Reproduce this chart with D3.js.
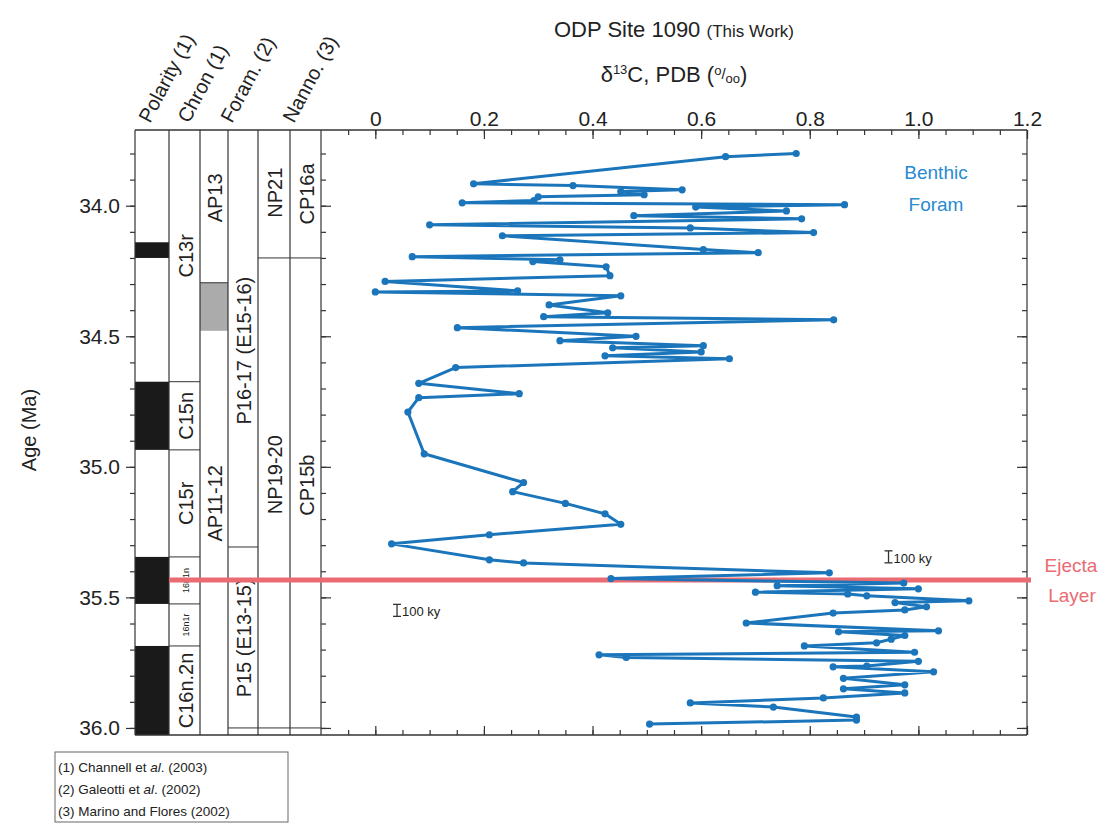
<!DOCTYPE html>
<html>
<head>
<meta charset="utf-8">
<script src="https://d3js.org/d3.v7.min.js"></script>
<style>
  body { margin: 0; background: #fff; }
  svg { display: block; font-family: "Liberation Sans", Arial, Helvetica, sans-serif; }
  text { fill: #222; }
</style>
</head>
<body>
<div id="graph"></div>
<script>
// d13C record, ODP Site 1090
var ageMa = [33.800, 33.812, 33.916, 33.923, 33.939, 33.946, 33.958, 33.966, 33.980, 33.989,
  33.996, 34.005, 34.020, 34.038, 34.050, 34.073, 34.085, 34.103, 34.115, 34.168,
  34.180, 34.195, 34.207, 34.214, 34.234, 34.268, 34.290, 34.326, 34.330, 34.345,
  34.380, 34.410, 34.425, 34.437, 34.467, 34.500, 34.517, 34.536, 34.544, 34.560,
  34.575, 34.586, 34.620, 34.680, 34.720, 34.735, 34.790, 34.950, 35.060, 35.095,
  35.140, 35.180, 35.220, 35.260, 35.295, 35.356, 35.368, 35.406, 35.428, 35.445,
  35.455, 35.467, 35.480, 35.487, 35.494, 35.513, 35.520, 35.536, 35.548, 35.560,
  35.598, 35.628, 35.632, 35.646, 35.660, 35.674, 35.686, 35.710, 35.720, 35.730,
  35.745, 35.763, 35.766, 35.785, 35.810, 35.835, 35.850, 35.866, 35.885, 35.904,
  35.920, 35.958, 35.970, 35.985];
var d13C = [0.775, 0.645, 0.181, 0.364, 0.565, 0.452, 0.495, 0.300, 0.292, 0.160,
  0.864, 0.590, 0.757, 0.476, 0.785, 0.100, 0.580, 0.807, 0.234, 0.604,
  0.705, 0.068, 0.340, 0.290, 0.425, 0.432, 0.018, 0.262, 0.000, 0.452,
  0.320, 0.428, 0.310, 0.844, 0.151, 0.480, 0.340, 0.604, 0.437, 0.600,
  0.423, 0.652, 0.148, 0.080, 0.265, 0.080, 0.060, 0.090, 0.273, 0.253,
  0.350, 0.423, 0.452, 0.210, 0.030, 0.210, 0.273, 0.836, 0.434, 0.973,
  0.740, 1.000, 0.700, 0.870, 0.905, 1.093, 0.957, 1.015, 0.975, 0.843,
  0.683, 1.037, 0.853, 0.975, 0.950, 0.923, 0.790, 0.993, 0.412, 0.462,
  1.000, 0.905, 0.843, 1.028, 0.862, 0.975, 0.862, 0.975, 0.825, 0.580,
  0.733, 0.886, 0.886, 0.505];

var xTicks = [0, 0.2, 0.4, 0.6, 0.8, 1.0, 1.2];
var xTickLabels = ["0", "0.2", "0.4", "0.6", "0.8", "1.0", "1.2"];
var yTicks = [34.0, 34.5, 35.0, 35.5, 36.0];
var yTickLabels = ["34.0", "34.5", "35.0", "35.5", "36.0"];

// stratigraphic columns (ages in Ma)
var polarityBlack = [[34.14, 34.20], [34.674, 34.935], [35.345, 35.525], [35.686, 36.03]];
var chronNames = ["C13r", "C15n", "C15r", "16n1n", "16n1r", "C16n.2n"];
var chronTops = [33.71, 34.674, 34.935, 35.345, 35.525, 35.686];
var chronBases = [34.674, 34.935, 35.345, 35.525, 35.686, 36.03];
var apNames = ["AP13", "AP11-12"];
var apLabelAge = [33.97, 35.14];
var apGrey = [34.295, 34.479];
var pNames = ["P16-17 (E15-16)", "P15 (E13-15)"];
var pLabelAge = [34.555, 35.655];
var pLines = [35.307, 36.0];
var npNames = ["NP21", "NP19-20"];
var npLabelAge = [33.95, 35.03];
var cpNames = ["CP16a", "CP15b"];
var cpLabelAge = [33.955, 35.07];
var nannoLines = [34.2, 36.0];
var ejectaAge = 35.433;

var W = 1110, H = 825;
var svg = d3.select("#graph").append("svg").attr("width", W).attr("height", H);

var x = d3.scaleLinear().domain([-0.1, 1.2]).range([321, 1027]);
var y = d3.scaleLinear().domain([33.71, 36.027]).range([130, 735]);

var colX = [135, 169, 200, 228, 258, 290, 321];   // column edges
var plotTop = y.range()[0], plotBot = y.range()[1];
var ink = "#333";

// ---- columns ----
var cols = svg.append("g");
polarityBlack.forEach(function(b) {
  cols.append("rect").attr("x", colX[0]).attr("width", colX[1] - colX[0])
    .attr("y", y(b[0])).attr("height", Math.min(y(b[1]), plotBot) - y(b[0]))
    .attr("fill", "#1a1a1a");
});
cols.append("rect").attr("x", colX[2]).attr("width", colX[3] - colX[2])
  .attr("y", y(apGrey[0])).attr("height", y(apGrey[1]) - y(apGrey[0]))
  .attr("fill", "#ababab");
cols.append("line").attr("x1", colX[2]).attr("x2", colX[3])
  .attr("y1", y(apGrey[0])).attr("y2", y(apGrey[0])).attr("stroke", ink).attr("stroke-width", 1);

// column dividers
colX.forEach(function(cx) {
  cols.append("line").attr("x1", cx).attr("x2", cx).attr("y1", plotTop).attr("y2", plotBot)
    .attr("stroke", ink).attr("stroke-width", 1.2);
});
// chron boundaries
chronTops.slice(1).forEach(function(a) {
  cols.append("line").attr("x1", colX[1]).attr("x2", colX[2]).attr("y1", y(a)).attr("y2", y(a))
    .attr("stroke", ink).attr("stroke-width", 1);
});
pLines.forEach(function(a) {
  cols.append("line").attr("x1", colX[3]).attr("x2", colX[4]).attr("y1", y(a)).attr("y2", y(a))
    .attr("stroke", ink).attr("stroke-width", 1);
});
nannoLines.forEach(function(a) {
  cols.append("line").attr("x1", colX[4]).attr("x2", colX[6]).attr("y1", y(a)).attr("y2", y(a))
    .attr("stroke", ink).attr("stroke-width", 1);
});

function vlabel(cx, age, txt, size) {
  cols.append("text")
    .attr("transform", "translate(" + cx + "," + y(age) + ") rotate(-90)")
    .attr("text-anchor", "middle").attr("dy", "0.36em")
    .style("font-size", size + "px").text(txt);
}
chronNames.forEach(function(n, i) {
  var small = n.indexOf("16n1") === 0;
  var mid = (Math.max(chronTops[i], 33.71) + Math.min(chronBases[i], 36.027)) / 2;
  vlabel((colX[1] + colX[2]) / 2 + 1, mid, n, small ? 9 : 20);
});
apNames.forEach(function(n, i) { vlabel((colX[2] + colX[3]) / 2 + 1, apLabelAge[i], n, 20); });
pNames.forEach(function(n, i) { vlabel((colX[3] + colX[4]) / 2 + 1, pLabelAge[i], n, 20); });
npNames.forEach(function(n, i) { vlabel((colX[4] + colX[5]) / 2 + 1, npLabelAge[i], n, 20); });
cpNames.forEach(function(n, i) { vlabel((colX[5] + colX[6]) / 2 + 1, cpLabelAge[i], n, 20); });

// column headers
var heads = [["Polarity (1)", 150], ["Chron (1)", 189], ["Foram. (2)", 232], ["Nanno. (3)", 294]];
heads.forEach(function(h) {
  svg.append("text").attr("transform", "translate(" + h[1] + ",124) rotate(-62)")
    .style("font-size", "20px").text(h[0]);
});

// ---- axes ----
function tickAxis(axis, tf) {
  var g = svg.append("g").attr("transform", tf).call(axis);
  g.select(".domain").remove();
  g.selectAll("line").attr("stroke", ink).attr("stroke-width", 1.2);
  return g;
}
var yMinor = d3.range(33.8, 36.01, 0.1);
var xMinor = d3.range(-0.05, 1.201, 0.05);

// left age axis
tickAxis(d3.axisLeft(y).tickValues(yMinor).tickSize(5).tickFormat(""), "translate(" + colX[0] + ",0)");
var yl = tickAxis(d3.axisLeft(y).tickValues(yTicks).tickSize(9).tickPadding(6)
  .tickFormat(function(d, i) { return yTickLabels[i]; }), "translate(" + colX[0] + ",0)");
yl.selectAll("text").style("font-size", "21px").attr("fill", "#222")
  .style("font-family", "Liberation Sans, Arial, sans-serif");

// inner ticks of the plot frame
tickAxis(d3.axisRight(y).tickValues(yMinor).tickSize(5).tickFormat(""), "translate(" + x.range()[0] + ",0)");
tickAxis(d3.axisRight(y).tickValues(yTicks).tickSize(10).tickFormat(""), "translate(" + x.range()[0] + ",0)");
tickAxis(d3.axisLeft(y).tickValues(yMinor).tickSize(5).tickFormat(""), "translate(" + x.range()[1] + ",0)");
tickAxis(d3.axisLeft(y).tickValues(yTicks).tickSize(10).tickFormat(""), "translate(" + x.range()[1] + ",0)");
tickAxis(d3.axisBottom(x).tickValues(xMinor).tickSize(5).tickFormat(""), "translate(0," + plotTop + ")");
tickAxis(d3.axisBottom(x).tickValues(xTicks).tickSize(9).tickFormat(""), "translate(0," + plotTop + ")");
tickAxis(d3.axisTop(x).tickValues(xMinor).tickSize(5).tickFormat(""), "translate(0," + plotBot + ")");
tickAxis(d3.axisTop(x).tickValues(xTicks).tickSize(9).tickFormat(""), "translate(0," + plotBot + ")");

// top tick labels
var xl = tickAxis(d3.axisTop(x).tickValues(xTicks).tickSize(0).tickPadding(4)
  .tickFormat(function(d, i) { return xTickLabels[i]; }), "translate(0," + plotTop + ")");
xl.selectAll("text").style("font-size", "21px").attr("fill", "#222")
  .style("font-family", "Liberation Sans, Arial, sans-serif");

// frame
svg.append("line").attr("x1", colX[0]).attr("x2", x.range()[1]).attr("y1", plotTop).attr("y2", plotTop)
  .attr("stroke", ink).attr("stroke-width", 1.5);
svg.append("line").attr("x1", colX[0]).attr("x2", x.range()[1]).attr("y1", plotBot).attr("y2", plotBot)
  .attr("stroke", ink).attr("stroke-width", 1.5);
svg.append("line").attr("x1", x.range()[1]).attr("x2", x.range()[1]).attr("y1", plotTop).attr("y2", plotBot)
  .attr("stroke", ink).attr("stroke-width", 1.2);

// ---- titles ----
var t1 = svg.append("text").attr("x", 674).attr("y", 37).attr("text-anchor", "middle");
t1.append("tspan").style("font-size", "22px").text("ODP Site 1090 ");
t1.append("tspan").style("font-size", "17px").text("(This Work)");
var t2 = svg.append("text").attr("x", 674).attr("y", 82).attr("text-anchor", "middle").style("font-size", "22px");
t2.append("tspan").text("\u03b4");
t2.append("tspan").attr("dy", -8).style("font-size", "13px").text("13");
t2.append("tspan").attr("dy", 8).text("C, PDB (");
t2.append("tspan").attr("dy", -7).style("font-size", "13px").text("o");
t2.append("tspan").attr("dy", 4).style("font-size", "15px").text("/");
t2.append("tspan").attr("dy", 4).style("font-size", "13px").text("oo");
t2.append("tspan").attr("dy", -1).text(")");

svg.append("text").attr("transform", "translate(36,430) rotate(-90)")
  .attr("text-anchor", "middle").style("font-size", "20px").text("Age (Ma)");

// ---- ejecta layer ----
var red = "#ea6b71";
svg.append("line").attr("x1", colX[1]).attr("x2", 1031).attr("y1", y(ejectaAge)).attr("y2", y(ejectaAge))
  .attr("stroke", red).attr("stroke-width", 5);
svg.append("text").attr("x", 1071).attr("y", y(ejectaAge) - 8).attr("text-anchor", "middle")
  .style("font-size", "19px").style("fill", red).text("Ejecta");
svg.append("text").attr("x", 1072).attr("y", y(ejectaAge) + 22).attr("text-anchor", "middle")
  .style("font-size", "19px").style("fill", red).text("Layer");

// ---- data ----
var blue = "#1b75bb";
var pts = ageMa.map(function(a, i) { return { age: a, v: d13C[i] }; });
var line = d3.line().x(function(d) { return x(d.v); }).y(function(d) { return y(d.age); });
svg.append("path").datum(pts).attr("d", line).attr("fill", "none")
  .attr("stroke", blue).attr("stroke-width", 3).attr("stroke-linejoin", "round");
svg.append("g").selectAll("circle").data(pts).enter().append("circle")
  .attr("cx", function(d) { return x(d.v); }).attr("cy", function(d) { return y(d.age); })
  .attr("r", 3.6).attr("fill", blue);

svg.append("text").attr("x", 936).attr("y", 179).attr("text-anchor", "middle")
  .style("font-size", "19px").style("fill", "#2a8ad0").text("Benthic");
svg.append("text").attr("x", 936).attr("y", 211).attr("text-anchor", "middle")
  .style("font-size", "19px").style("fill", "#2a8ad0").text("Foram");

// 100 ky bars
function kyBar(bx, by) {
  var g = svg.append("g");
  g.append("line").attr("x1", bx).attr("x2", bx).attr("y1", by - 12).attr("y2", by)
    .attr("stroke", "#333").attr("stroke-width", 1.3);
  g.append("line").attr("x1", bx - 4).attr("x2", bx + 4).attr("y1", by - 12).attr("y2", by - 12)
    .attr("stroke", "#333").attr("stroke-width", 1.3);
  g.append("line").attr("x1", bx - 4).attr("x2", bx + 4).attr("y1", by).attr("y2", by)
    .attr("stroke", "#333").attr("stroke-width", 1.3);
  g.append("text").attr("x", bx + 5).attr("y", by).style("font-size", "13px").text("100 ky");
}
kyBar(x(0.945), y(35.36) + 2);
kyBar(x(0.04), y(35.565) + 2);

// ---- reference box ----
svg.append("rect").attr("x", 55).attr("y", 752).attr("width", 233).attr("height", 70)
  .attr("fill", "none").attr("stroke", "#666").attr("stroke-width", 1);
var refs = [["(1) Channell et ", "al", ". (2003)"], ["(2) Galeotti et ", "al", ". (2002)"], ["(3) Marino and Flores (2002)", "", ""]];
refs.forEach(function(r, i) {
  var t = svg.append("text").attr("x", 58).attr("y", 772 + i * 22).style("font-size", "13.5px");
  t.append("tspan").text(r[0]);
  if (r[1]) {
    t.append("tspan").style("font-style", "italic").text(r[1]);
    t.append("tspan").text(r[2]);
  }
});
</script>
</body>
</html>
